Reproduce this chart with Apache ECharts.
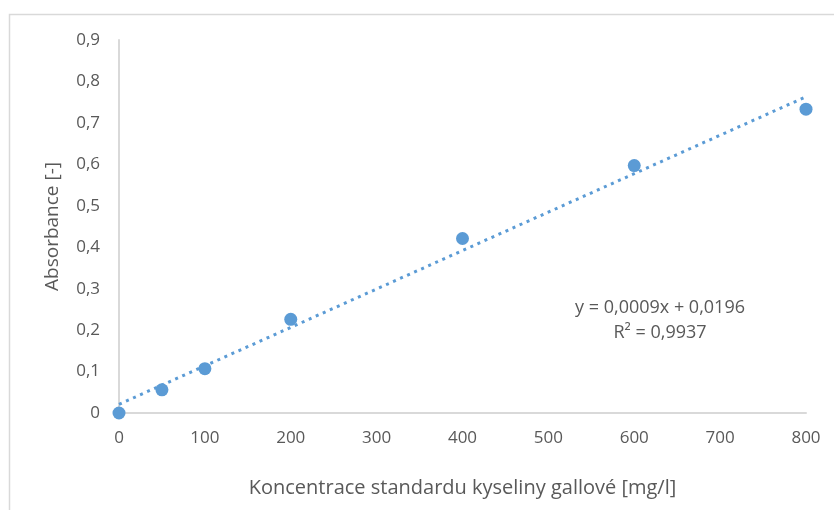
<!DOCTYPE html>
<html lang="cs">
<head>
    <meta charset="UTF-8">
    <title>Kalibrační křivka – kyselina gallová</title>
    <script src="https://cdn.jsdelivr.net/npm/echarts@6/dist/echarts.min.js"></script>
    <style>
        html, body { margin: 0; padding: 0; background: #fff; }
    </style>
</head>
<body>
<div id="main" style="width: 834px; height: 510px;"></div>
<script type="text/javascript">
    // koncentrace standardu [mg/l] a naměřená absorbance
    var koncentrace = [0, 50, 100, 200, 400, 600, 800];
    var absorbance = [0, 0.056, 0.107, 0.226, 0.421, 0.597, 0.733];
    // lineární spojnice trendu (koncové body)
    var trendX = [0, 800];
    var trendY = [0.021, 0.763];
    var rovnice = ['y = 0,0009x + 0,0196', 'R² = 0,9937'];

    var barva = '#5B9BD5';
    var sedaText = '#595959';
    var pismo = '"Open Sans", "Noto Sans", sans-serif';

    function carka(v) {
        return String(v).replace('.', ',');
    }

    var myChart = echarts.init(document.getElementById('main'));
    var option = {
        animation: false,
        grid: {left: 119, right: 28, top: 40, bottom: 97},
        // rámeček grafu + rovnice regrese
        graphic: [{
            type: 'rect',
            silent: true,
            shape: {x: 9.5, y: 14.5, width: 900, height: 600},
            style: {fill: 'none', stroke: '#d9d9d9', lineWidth: 1.5}
        }, {
            type: 'text',
            silent: true,
            style: {
                text: rovnice.join('\n'),
                x: 660,
                y: 295,
                fill: sedaText,
                font: '18px ' + pismo,
                align: 'center',
                verticalAlign: 'top',
                lineHeight: 25
            }
        }],
        xAxis: {
            type: 'value',
            min: 0,
            max: 800,
            interval: 100,
            name: 'Koncentrace standardu kyseliny gallové [mg/l]',
            nameLocation: 'middle',
            nameGap: 65,
            nameTextStyle: {color: sedaText, fontSize: 20, fontFamily: pismo},
            axisLine: {show: true, lineStyle: {color: '#d9d9d9', width: 2}},
            axisTick: {show: false},
            splitLine: {show: false},
            axisLabel: {color: sedaText, fontSize: 17, fontFamily: pismo, margin: 17}
        },
        yAxis: {
            type: 'value',
            min: 0,
            max: 0.9,
            interval: 0.1,
            name: 'Absorbance [-]',
            nameLocation: 'middle',
            nameGap: 57,
            nameTextStyle: {color: sedaText, fontSize: 19, fontFamily: pismo},
            axisLine: {show: true, lineStyle: {color: '#d9d9d9', width: 2}},
            axisTick: {show: false},
            splitLine: {show: false},
            axisLabel: {
                color: sedaText, fontSize: 17, fontFamily: pismo, margin: 19,
                formatter: function (v) { return carka(Math.round(v * 10) / 10); }
            }
        },
        series: [{
            type: 'line',
            data: trendX.map(function (x, i) { return [x, trendY[i]]; }),
            symbol: 'none',
            silent: true,
            lineStyle: {color: barva, width: 3, type: [3, 4.7]},
            z: 1
        }, {
            type: 'scatter',
            data: koncentrace.map(function (x, i) { return [x, absorbance[i]]; }),
            symbol: 'circle',
            symbolSize: 13,
            itemStyle: {color: barva, opacity: 1},
            z: 2
        }]
    };
    myChart.setOption(option);
</script>
</body>
</html>
